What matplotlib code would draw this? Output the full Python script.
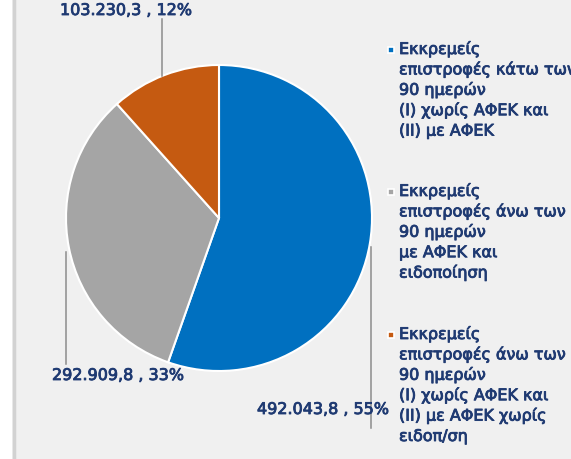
import matplotlib
matplotlib.use('Agg')
import matplotlib.pyplot as plt
import matplotlib.patheffects as pe
from matplotlib.lines import Line2D
from matplotlib.patches import Rectangle

# DATA
values = [492043.8, 292909.8, 103230.3]
colors = ['#0070c0', '#a5a5a5', '#c55a11']
legend_lines = [
    ['Εκκρεμείς', 'επιστροφές κάτω των', '90 ημερών', '(I) χωρίς ΑΦΕΚ και', '(II) με ΑΦΕΚ'],
    ['Εκκρεμείς', 'επιστροφές άνω των', '90 ημερών', 'με ΑΦΕΚ και', 'ειδοποίηση'],
    ['Εκκρεμείς', 'επιστροφές άνω των', '90 ημερών', '(I) χωρίς ΑΦΕΚ και',
     '(II) με ΑΦΕΚ χωρίς', 'ειδοπ/ση'],
]

# LAYOUT (pixels, origin top-left)
W, H = 571, 459
CX, CY, R = 219, 218, 153
TEXT_COLOR = '#1f3a72'
FS = 11.5
label_pos = [(257, 414), (52, 380), (60, 15)]          # left x, baseline y
leaders = [(371, 247, 428), (66, 252, 364), (162, 76, 19)]  # x, y0, y1
legend_x, marker_x = 399, 391
legend_base = [54, 196, 339]
line_step = 20.4

# slight stroke so the text reads as heavy as in the original
heavy = [pe.withStroke(linewidth=0.6, foreground=TEXT_COLOR)]


def px(x, y):
    return x / W, 1 - y / H


def fmt(v):
    s = f'{v:,.1f}'
    return s.replace(',', ' ').replace('.', ',').replace(' ', '.')


fig = plt.figure(figsize=(W / 100, H / 100), dpi=100, facecolor='#f0f0f0')

# white strip + border on the left
fig.patches.append(Rectangle((0, 0), 12 / W, 1, transform=fig.transFigure,
                             facecolor='white', edgecolor='none', zorder=0))
fig.add_artist(Line2D([13.5 / W, 13.5 / W], [0, 1], transform=fig.transFigure,
                      color='#d2d2d2', lw=2.5))

ax = fig.add_axes([(CX - R) / W, (H - CY - R) / H, 2 * R / W, 2 * R / H])
ax.pie(values, colors=colors, startangle=90, counterclock=False, radius=1,
       wedgeprops={'edgecolor': 'white', 'linewidth': 1.5})
ax.set_xlim(-1, 1)
ax.set_ylim(-1, 1)
ax.set_facecolor('none')

total = sum(values)
for v, (lx, ly), (x, y0, y1) in zip(values, label_pos, leaders):
    fig.add_artist(Line2D([px(x, y0)[0], px(x, y1)[0]], [px(x, y0)[1], px(x, y1)[1]],
                          transform=fig.transFigure, color='#8c8c8c', lw=1.1, zorder=1))
    fig.text(*px(lx, ly), f'{fmt(v)} , {round(100 * v / total)}%',
             ha='left', va='baseline', fontsize=FS, color=TEXT_COLOR,
             family='DejaVu Sans', zorder=3, path_effects=heavy)

for c, lines, yb in zip(colors, legend_lines, legend_base):
    mx, my = px(marker_x, yb - 4)
    fig.add_artist(Line2D([mx], [my], transform=fig.transFigure, marker='s',
                          markersize=4, color=c, markeredgecolor='white',
                          markeredgewidth=1.2, linestyle='none'))
    for i, line in enumerate(lines):
        fig.text(*px(legend_x, yb + i * line_step), line, ha='left', va='baseline',
                 fontsize=FS, color=TEXT_COLOR, family='DejaVu Sans',
                 path_effects=heavy)

fig.savefig('out.png', dpi=100, facecolor=fig.get_facecolor())
